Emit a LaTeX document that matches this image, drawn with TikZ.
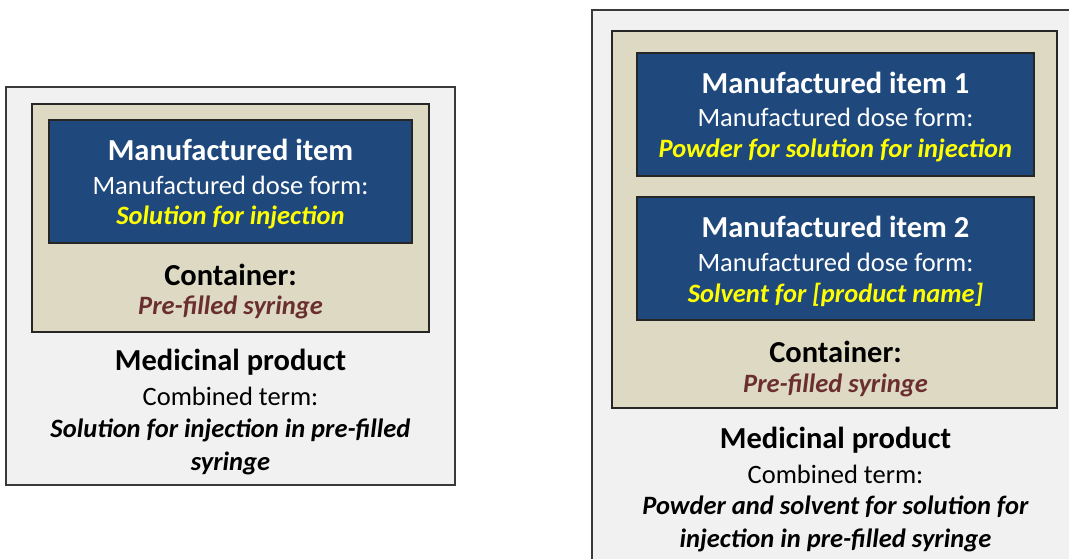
\documentclass[tikz,border=0pt]{standalone}
\usepackage{fontspec}
\setmainfont{Carlito}
\definecolor{outerfill}{HTML}{F1F1F1}
\definecolor{outerdraw}{HTML}{3A3A3A}
\definecolor{beige}{HTML}{DDD9C3}
\definecolor{itemblue}{HTML}{1F497D}
\definecolor{itemyellow}{HTML}{FFFF00}
\definecolor{syringered}{HTML}{6B2E2E}
\tikzset{
  outerbox/.style={fill=outerfill, draw=outerdraw, line width=1.4pt},
  containerbox/.style={fill=beige, draw=black!85, line width=1.4pt},
  itembox/.style={fill=itemblue, draw=black!85, line width=1.4pt},
  ttl/.style={font=\fontsize{30.5}{34}\selectfont\bfseries, inner sep=0pt},
  reg/.style={font=\fontsize{26.5}{30}\selectfont, inner sep=0pt},
  emph/.style={font=\fontsize{26.5}{30}\selectfont\bfseries\itshape, inner sep=0pt},
  itemttl/.style={ttl, text=white},
  itemreg/.style={reg, text=white},
  itememph/.style={emph, text=itemyellow},
  contttl/.style={ttl, text=black},
  contemph/.style={emph, text=syringered},
  prodttl/.style={ttl, text=black},
  prodreg/.style={reg, text=black},
  prodemph/.style={emph, text=black},
}
\begin{document}
\begin{tikzpicture}[x=1pt,y=-1pt]
\useasboundingbox (0,0) rectangle (1069,559);
\fill[white] (0,0) rectangle (1069,559);
\clip (0,0) rectangle (1069,559);
% ---------- left ----------
\draw[outerbox] (6,87) rectangle (455,485);
\draw[containerbox] (32,104) rectangle (429,332);
\draw[itembox] (49,120) rectangle (412,243);
\node[itemttl] (l1) at (230.5,150) {Manufactured item};
\node[itemreg] (l2) at (230.5,185) {Manufactured dose form:};
\node[itememph] (l3) at (230.5,217) {Solution for injection};
\node[contttl] (l4) at (230.5,275) {Container:};
\node[contemph] (l5) at (230.5,307) {Pre-filled syringe};
\node[prodttl] (l6) at (230.5,362) {Medicinal product};
\node[prodreg] (l7) at (230.5,396) {Combined term:};
\node[prodemph] (l8) at (230.5,430) {Solution for injection in pre-filled};
\node[prodemph] (l9) at (230.5,463) {syringe};
% ---------- right ----------
\draw[outerbox] (592,10) rectangle (1085,575);
\draw[containerbox] (612,31) rectangle (1057,408);
\draw[itembox] (637,53) rectangle (1034,176);
\draw[itembox] (637,197) rectangle (1034,320);
\node[itemttl] (r1) at (835.5,83) {Manufactured item 1};
\node[itemreg] (r2) at (835.5,117) {Manufactured dose form:};
\node[itememph] (r3) at (835.5,150) {Powder for solution for injection};
\node[itemttl] (r4) at (835.5,227) {Manufactured item 2};
\node[itemreg] (r5) at (835.5,262) {Manufactured dose form:};
\node[itememph] (r6) at (835.5,295) {Solvent for [product name]};
\node[contttl] (r7) at (835.5,352) {Container:};
\node[contemph] (r8) at (835.5,385) {Pre-filled syringe};
\node[prodttl] (r9) at (835.5,440) {Medicinal product};
\node[prodreg] (r10) at (835.5,474) {Combined term:};
\node[prodemph] (r11) at (835.5,507) {Powder and solvent for solution for};
\node[prodemph] (r12) at (835.5,540) {injection in pre-filled syringe};
\end{tikzpicture}
\end{document}
